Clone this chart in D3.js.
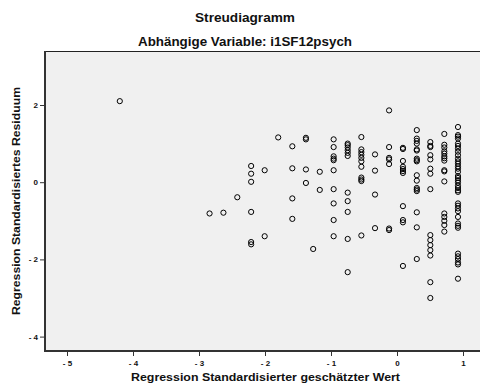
<!DOCTYPE html>
<html><head><meta charset="utf-8">
<script src="https://cdn.jsdelivr.net/npm/d3@7/dist/d3.min.js"></script>
<style>body{margin:0;background:#fff}svg{display:block}text{font-family:"Liberation Sans",Arial,sans-serif;font-weight:bold;fill:#111}</style>
</head><body><svg id="c" width="480" height="385"></svg>
<script>
const title = "Streudiagramm";
const subtitle = "Abhängige Variable: i1SF12psych";
const xTitle = "Regression Standardisierter geschätzter Wert";
const yTitle = "Regression Standardisiertes Residuum";
const xTicks = [-5, -4, -3, -2, -1, 0, 1];
const yTicks = [-4, -2, 0, 2];
// predicted values (columns) and residuals at each column
const xColumns = [-4.2, -2.84, -2.63, -2.42, -2.21, -2.005, -1.8, -1.586, -1.38, -1.27, -1.17, -0.96, -0.747, -0.54, -0.333, -0.12, 0.09, 0.30, 0.505, 0.717, 0.924];
const residuals = [
  [2.10],
  [-0.81],
  [-0.79],
  [-0.39],
  [0.42, 0.22, 0.01, -0.77, -1.55, -1.61],
  [0.31, -1.40],
  [1.16],
  [0.93, 0.36, -0.42, -0.95],
  [1.15, 1.11, 0.33, -0.02],
  [-1.73],
  [0.27, -0.20],
  [1.11, 0.91, 0.67, 0.61, 0.57, 0.31, -0.18, -0.55, -0.98, -1.40],
  [1.00, 0.96, 0.90, 0.83, 0.76, 0.68, -0.27, -0.49, -0.77, -1.47, -2.33],
  [1.17, 0.85, 0.78, 0.71, 0.63, 0.54, 0.40, 0.12, 0.07, 0.03, -1.38],
  [0.72, 0.30, -0.32, -1.19],
  [1.86, 0.91, 0.63, 0.59, 0.47, -1.20, -1.24],
  [0.89, 0.86, 0.55, 0.40, 0.34, 0.29, 0.24, -0.62, -0.98, -1.04, -2.17],
  [1.35, 1.13, 1.07, 1.00, 0.85, 0.82, 0.61, 0.57, 0.54, 0.18, 0.04, -0.15, -0.19, -0.23, -0.78, -1.17, -1.99],
  [1.04, 0.94, 0.91, 0.70, 0.59, 0.35, 0.22, -0.18, -1.37, -1.50, -1.63, -1.76, -1.90, -2.59, -3.00],
  [1.25, 0.97, 0.90, 0.80, 0.74, 0.67, 0.62, 0.56, 0.31, 0.28, 0.02, -0.81, -0.90, -1.00, -1.11, -1.28],
  [1.43, 1.22, 1.18, 1.13, 1.00, 0.94, 0.87, 0.79, 0.70, 0.61, 0.54, 0.48, 0.41, 0.35, 0.27, 0.16, 0.11, 0.05, -0.01, -0.09, -0.15, -0.21, -0.25, -0.55, -0.61, -0.68, -0.75, -0.90, -1.07, -1.13, -1.18, -1.85, -1.92, -1.99, -2.08, -2.13, -2.50]
];

const svg = d3.select("#c");
const L = 45, R = 480, T = 51, B = 351;
const x = d3.scaleLinear().domain([-5, 1]).range([67, 463]);
const y = d3.scaleLinear().domain([-4, 2]).range([336.6, 105]);

svg.append("rect").attr("x", L).attr("y", T).attr("width", R - L).attr("height", B - T).attr("fill", "#f0f0f0");
svg.append("line").attr("x1", L).attr("x2", R).attr("y1", T + 0.5).attr("y2", T + 0.5).attr("stroke", "#222").attr("stroke-width", 1);

const fmt = d => d < 0 ? "- " + Math.abs(d) : String(d);

const xAxis = svg.append("g").attr("transform", `translate(0,${B})`)
  .call(d3.axisBottom(x).tickValues(xTicks).tickFormat(fmt).tickSize(5).tickPadding(4));
xAxis.select(".domain").remove();
xAxis.selectAll("line").attr("stroke", "#333");
xAxis.selectAll("text").attr("font-size", 8).attr("font-weight", "bold").attr("fill", "#111").attr("font-family", "Liberation Sans, Arial, sans-serif");

const yAxis = svg.append("g").attr("transform", `translate(${L},0)`)
  .call(d3.axisLeft(y).tickValues(yTicks).tickFormat(fmt).tickSize(5).tickPadding(2));
yAxis.select(".domain").remove();
yAxis.selectAll("line").attr("stroke", "#333");
yAxis.selectAll("text").attr("font-size", 8).attr("font-weight", "bold").attr("fill", "#111").attr("font-family", "Liberation Sans, Arial, sans-serif");

svg.append("line").attr("x1", L).attr("x2", L).attr("y1", T).attr("y2", B + 1).attr("stroke", "#333").attr("stroke-width", 2);
svg.append("line").attr("x1", L - 1).attr("x2", R).attr("y1", B).attr("y2", B).attr("stroke", "#333").attr("stroke-width", 2);

const pts = [];
xColumns.forEach((cx, i) => residuals[i].forEach(r => pts.push([cx, r])));
svg.append("g").selectAll("circle").data(pts).join("circle")
  .attr("cx", d => x(d[0])).attr("cy", d => y(d[1])).attr("r", 2.6)
  .attr("fill", "none").attr("stroke", "#000").attr("stroke-width", 1);

svg.append("text").attr("x", 245).attr("y", 22).attr("text-anchor", "middle").attr("font-size", 12.5)
  .attr("textLength", 100).attr("lengthAdjust", "spacingAndGlyphs").text(title);
svg.append("text").attr("x", 245).attr("y", 46).attr("text-anchor", "middle").attr("font-size", 12.5)
  .attr("textLength", 214).attr("lengthAdjust", "spacingAndGlyphs").text(subtitle);
svg.append("text").attr("x", 265.5).attr("y", 381).attr("text-anchor", "middle").attr("font-size", 11.5)
  .attr("textLength", 269).attr("lengthAdjust", "spacingAndGlyphs").text(xTitle);
svg.append("text").attr("transform", "translate(20,201) rotate(-90)").attr("text-anchor", "middle").attr("font-size", 11.5)
  .attr("textLength", 228).attr("lengthAdjust", "spacingAndGlyphs").text(yTitle);
</script></body></html>
